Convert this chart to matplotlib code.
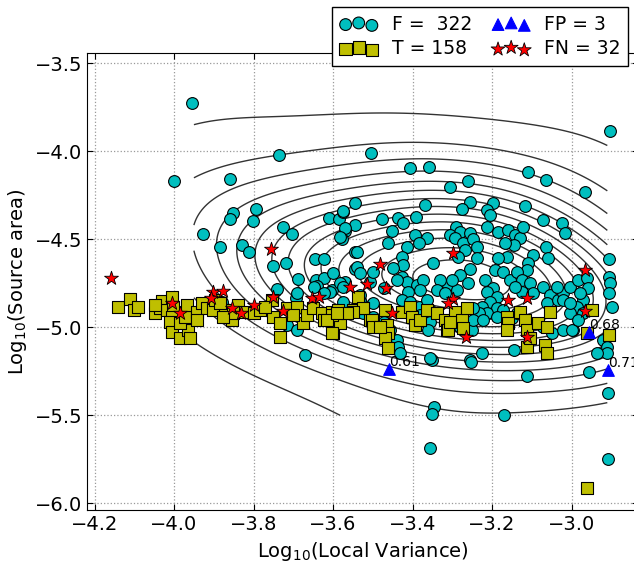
import numpy as np
import matplotlib
matplotlib.use('Agg')
import matplotlib.pyplot as plt

# ---- data (log10 local variance, log10 source area) ----
f_x = [-3.954, -3.736, -4.000, -3.858, -3.851, -3.859, -3.794, -3.802, -3.928, -3.884,
       -3.830, -3.811, -3.725, -3.704, -3.752, -3.718, -3.689, -3.742, -3.645, -3.622,
       -3.644, -3.622, -3.641, -3.602, -3.570, -3.609, -3.584, -3.574, -3.545, -3.570,
       -3.545, -3.578, -3.544, -3.544, -3.694, -3.880, -3.716, -3.691, -3.670,
       -2.903, -3.505, -3.406, -3.359, -3.110, -3.065, -2.965, -3.260, -3.306, -3.369,
       -3.255, -3.197, -3.213, -3.205, -3.276, -3.117, -3.574, -3.477, -3.436, -3.425,
       -3.391, -3.570, -3.582, -3.452, -3.461, -3.394, -3.364,
       -3.291, -3.281, -3.306, -3.293, -3.272, -3.255, -3.247, -3.238,
       -3.213, -3.184, -3.159, -3.142, -3.130, -3.146, -3.167,
       -3.122, -3.071, -3.023, -3.016, -3.065, -3.058, -3.098, -3.109, -3.113,
       -3.163, -3.184, -3.192, -3.172, -3.155,
       -3.138, -3.125, -3.104, -3.096, -3.125, -3.142,
       -3.071, -3.054, -3.062, -3.033, -3.021, -3.004, -2.983,
       -2.962, -2.958, -2.970, -2.987, -3.004, -2.996,
       -2.905, -2.907, -2.903, -2.906, -2.899,
       -2.920, -2.911, -2.911, -2.937,
       -3.349, -3.255, -3.281, -3.260, -3.310, -3.331, -3.339, -3.318, -3.289, -3.301,
       -3.218, -3.197, -3.213, -3.188, -3.205, -3.226, -3.188, -3.172, -3.155, -3.213,
       -3.234, -3.247,
       -3.427, -3.415, -3.389, -3.373, -3.381, -3.411, -3.427, -3.406, -3.385, -3.364,
       -3.356, -3.356, -3.360, -3.381,
       -3.507, -3.532, -3.582, -3.608, -3.574, -3.540, -3.524, -3.499, -3.473, -3.457,
       -3.440, -3.436, -3.431, -3.352, -3.255, -3.226, -3.146, -3.251, -3.247, -3.281,
       -3.222, -3.188, -3.150, -3.138, -3.096, -3.071, -3.050, -3.021, -3.000,
       -3.037, -3.021, -3.004, -2.979, -2.970, -2.983,
       -3.415, -3.427, -3.423, -3.385, -3.540, -3.540, -3.532, -3.499, -3.448, -3.440,
       -3.473, -3.599, -3.238, -3.268, -3.285,
       -3.254, -3.113, -2.955, -2.909, -3.346, -3.350, -3.171, -3.356, -2.909, -3.356,
       -3.691, -3.649, -3.624, -3.574, -3.532, -3.499]
f_y = [-3.727, -4.023, -4.167, -4.157, -4.352, -4.385, -4.326, -4.396, -4.468, -4.544,
       -4.532, -4.574, -4.430, -4.468, -4.652, -4.636, -4.724, -4.784, -4.614, -4.610,
       -4.731, -4.718, -4.765, -4.788, -4.741, -4.381, -4.385, -4.347, -4.295, -4.453,
       -4.419, -4.498, -4.574, -4.667, -4.835, -4.855, -4.987, -5.015, -5.158,
       -3.883, -4.008, -4.097, -4.088, -4.119, -4.163, -4.233, -4.167, -4.205, -4.305,
       -4.286, -4.296, -4.334, -4.362, -4.329, -4.311, -4.339, -4.386, -4.377, -4.409,
       -4.372, -4.438, -4.489, -4.451, -4.519, -4.476, -4.494,
       -4.432, -4.457, -4.476, -4.494, -4.523, -4.466, -4.500, -4.542,
       -4.428, -4.457, -4.447, -4.476, -4.494, -4.532, -4.523,
       -4.428, -4.390, -4.409, -4.466, -4.542, -4.608, -4.589, -4.636, -4.675,
       -4.599, -4.608, -4.675, -4.684, -4.731,
       -4.684, -4.731, -4.750, -4.807, -4.798, -4.769,
       -4.769, -4.817, -4.864, -4.845, -4.807, -4.769, -4.731,
       -4.722, -4.778, -4.845, -4.883, -4.920, -5.015,
       -4.614, -4.712, -4.750, -4.807, -4.883,
       -5.072, -5.110, -5.148, -5.148,
       -4.633, -4.670, -4.703, -4.747, -4.760, -4.731, -4.788, -4.807, -4.788, -4.731,
       -4.731, -4.778, -4.798, -4.826, -4.855, -4.883, -4.892, -4.902, -4.940, -4.920,
       -4.920, -4.892,
       -4.712, -4.741, -4.760, -4.731, -4.788, -4.798, -4.845, -4.855, -4.883, -4.845,
       -4.902, -4.968, -5.015, -4.930,
       -4.741, -4.845, -4.747, -4.798, -4.855, -4.883, -4.920, -4.940, -4.968, -5.015,
       -5.072, -5.110, -5.148, -5.186, -5.186, -5.148, -5.129, -5.015, -4.959, -4.997,
       -4.959, -4.940, -4.949, -4.920, -4.977, -4.997, -5.034, -5.015, -5.015,
       -4.769, -4.845, -4.864, -4.807, -4.920, -4.959,
       -4.542, -4.599, -4.646, -4.523, -4.570, -4.656, -4.693, -4.684, -4.665, -4.731,
       -4.778, -4.693, -4.608, -4.561, -4.599,
       -5.195, -5.275, -5.252, -5.375, -5.451, -5.493, -5.500, -5.688, -5.748, -5.176,
       -4.807, -4.769, -4.807, -4.769, -4.817, -4.864]

t_x = [-4.140, -4.112, -4.100, -4.090, -4.048, -4.035, -4.031, -4.018, -4.006, -4.002,
       -4.006, -4.010, -4.006, -3.985, -3.964, -3.960, -3.985, -3.972, -3.968, -3.943,
       -3.930, -3.918, -3.901, -3.897, -3.872, -3.855, -3.851, -3.838, -3.821, -3.800,
       -3.784, -3.754, -3.750, -3.733, -3.733, -3.716, -3.691, -3.675, -3.666, -3.650,
       -3.628, -3.624, -3.603, -3.599, -3.582, -3.574, -3.549, -3.524, -3.507, -3.499,
       -3.943, -3.884, -3.876, -3.771, -3.700, -4.048,
       -3.536, -3.524, -3.549, -3.587, -3.603, -3.603, -3.503, -3.499,
       -3.469, -3.465, -3.461, -3.469, -3.461, -3.482,
       -3.427, -3.406, -3.402, -3.394, -3.381, -3.364, -3.339, -3.318, -3.314, -3.293,
       -3.276, -3.272, -3.264, -3.310, -3.306,
       -3.163, -3.159, -3.163, -3.130, -3.117, -3.113, -3.113, -3.104,
       -3.084, -3.062, -3.054, -3.067, -3.062,
       -2.949, -2.962, -2.907,
       -3.566, -3.616, -3.591, -2.960]
t_y = [-4.883, -4.841, -4.902, -4.883, -4.920, -4.892, -4.849, -4.902, -4.826, -4.883,
       -4.940, -4.968, -5.029, -5.063, -5.015, -5.063, -4.977, -4.940, -4.873, -4.911,
       -4.864, -4.892, -4.902, -4.845, -4.902, -4.959, -4.920, -4.873, -4.911, -4.920,
       -4.902, -4.845, -4.940, -4.977, -5.053, -4.892, -4.883, -4.977, -4.930, -4.892,
       -4.920, -4.959, -4.911, -5.034, -4.977, -4.920, -4.902, -4.892, -4.959, -4.977,
       -4.959, -4.864, -4.940, -4.883, -4.930, -4.873,
       -4.826, -4.892, -4.911, -4.902, -4.930, -5.034, -4.959, -4.997,
       -4.902, -4.987, -5.034, -5.063, -5.119, -4.997,
       -4.911, -4.883, -4.940, -4.987, -4.959, -4.902, -4.920, -4.959, -5.015, -4.911,
       -4.959, -5.006, -4.892, -5.015, -4.968,
       -4.940, -4.977, -5.015, -4.911, -4.959, -5.015, -5.110, -5.063,
       -4.977, -4.997, -4.911, -5.100, -5.148,
       -4.902, -5.034, -5.044,
       -4.920, -4.959, -4.920, -5.911]

fp_x = [-3.459, -2.956, -2.908]
fp_y = [-5.237, -5.028, -5.243]
fp_labels = ['0.61', '0.68', '0.71']

fn_x = [-4.158, -3.757, -3.901, -3.878, -3.908, -4.006, -3.985, -3.853, -3.832, -3.799,
        -3.752, -3.727, -3.652, -3.635, -3.557, -3.515, -3.482, -3.467, -3.452, -3.297,
        -3.297, -3.312, -3.265, -3.159, -3.113, -3.113, -2.966, -2.966]
fn_y = [-4.722, -4.557, -4.798, -4.792, -4.835, -4.864, -4.920, -4.892, -4.917, -4.873,
        -4.826, -4.907, -4.835, -4.826, -4.769, -4.756, -4.642, -4.778, -4.920, -4.580,
        -4.841, -4.864, -5.057, -4.845, -4.835, -5.057, -4.675, -4.906]

legend_labels = ['F =  322', 'T = 158', 'FP = 3', 'FN = 32']

plt.rcParams['font.family'] = 'DejaVu Sans'
plt.rcParams['xtick.direction'] = 'in'
plt.rcParams['ytick.direction'] = 'in'
plt.rcParams['xtick.top'] = True
plt.rcParams['ytick.right'] = True

fig = plt.figure(figsize=(6.34, 5.65), dpi=100)
ax = fig.add_axes([0.1372, 0.0965, 0.869, 0.8097])

# gaussian kde of the F population for the contour lines
fx = np.array(f_x)
fy = np.array(f_y)
pts = np.vstack([fx, fy])
bw = 0.75
cov = np.cov(pts) * bw ** 2
icov = np.linalg.inv(cov)
gx, gy = np.meshgrid(np.linspace(-3.95, -2.91, 160), np.linspace(-5.5, -3.6, 180))
dx = gx[..., None] - fx
dy = gy[..., None] - fy
q = icov[0, 0] * dx * dx + 2 * icov[0, 1] * dx * dy + icov[1, 1] * dy * dy
z = np.exp(-0.5 * q).sum(axis=-1)
levels = np.linspace(z.max() * 0.035, z.max() * 0.95, 14)
ax.contour(gx, gy, z, levels=levels, colors='0.2', linewidths=1.0, zorder=1)

kw = dict(s=72, edgecolors='k', linewidths=0.8, zorder=3)
h1 = ax.scatter(f_x, f_y, c='c', marker='o', **kw)
h2 = ax.scatter(t_x, t_y, c='y', marker='s', s=80, edgecolors='k', linewidths=0.8, zorder=3)
h4 = ax.scatter(fn_x, fn_y, c='r', marker='*', s=110, edgecolors='k', linewidths=0.6, zorder=4)
h3 = ax.scatter(fp_x, fp_y, c='b', marker='^', s=70, edgecolors='b', linewidths=0.8, zorder=5)
for x, y, lab in zip(fp_x, fp_y, fp_labels):
    ax.text(x, y, lab, fontsize=10, ha='left', va='bottom', zorder=6)

ax.set_xlim(-4.219, -2.833)
ax.set_ylim(-6.041, -3.441)
ax.set_xticks([-4.2, -4.0, -3.8, -3.6, -3.4, -3.2, -3.0])
ax.set_yticks([-6.0, -5.5, -5.0, -4.5, -4.0, -3.5])
ax.tick_params(labelsize=14, length=4)
ax.grid(True, linestyle=':', color='0.6', linewidth=0.9)
ax.set_axisbelow(True)
ax.set_xlabel('Log$_{10}$(Local Variance)', fontsize=14)
ax.set_ylabel('Log$_{10}$(Source area)', fontsize=14)

fig.legend([h1, h2, h3, h4], legend_labels, ncol=2, scatterpoints=3,
           loc='upper right', bbox_to_anchor=(0.9905, 0.9876), borderaxespad=0,
           fontsize=13.5, fancybox=False, edgecolor='k', framealpha=1,
           columnspacing=1.1, handletextpad=0.75, borderpad=0.4, labelspacing=0.3)

fig.savefig('out.png', dpi=100, facecolor='white')
